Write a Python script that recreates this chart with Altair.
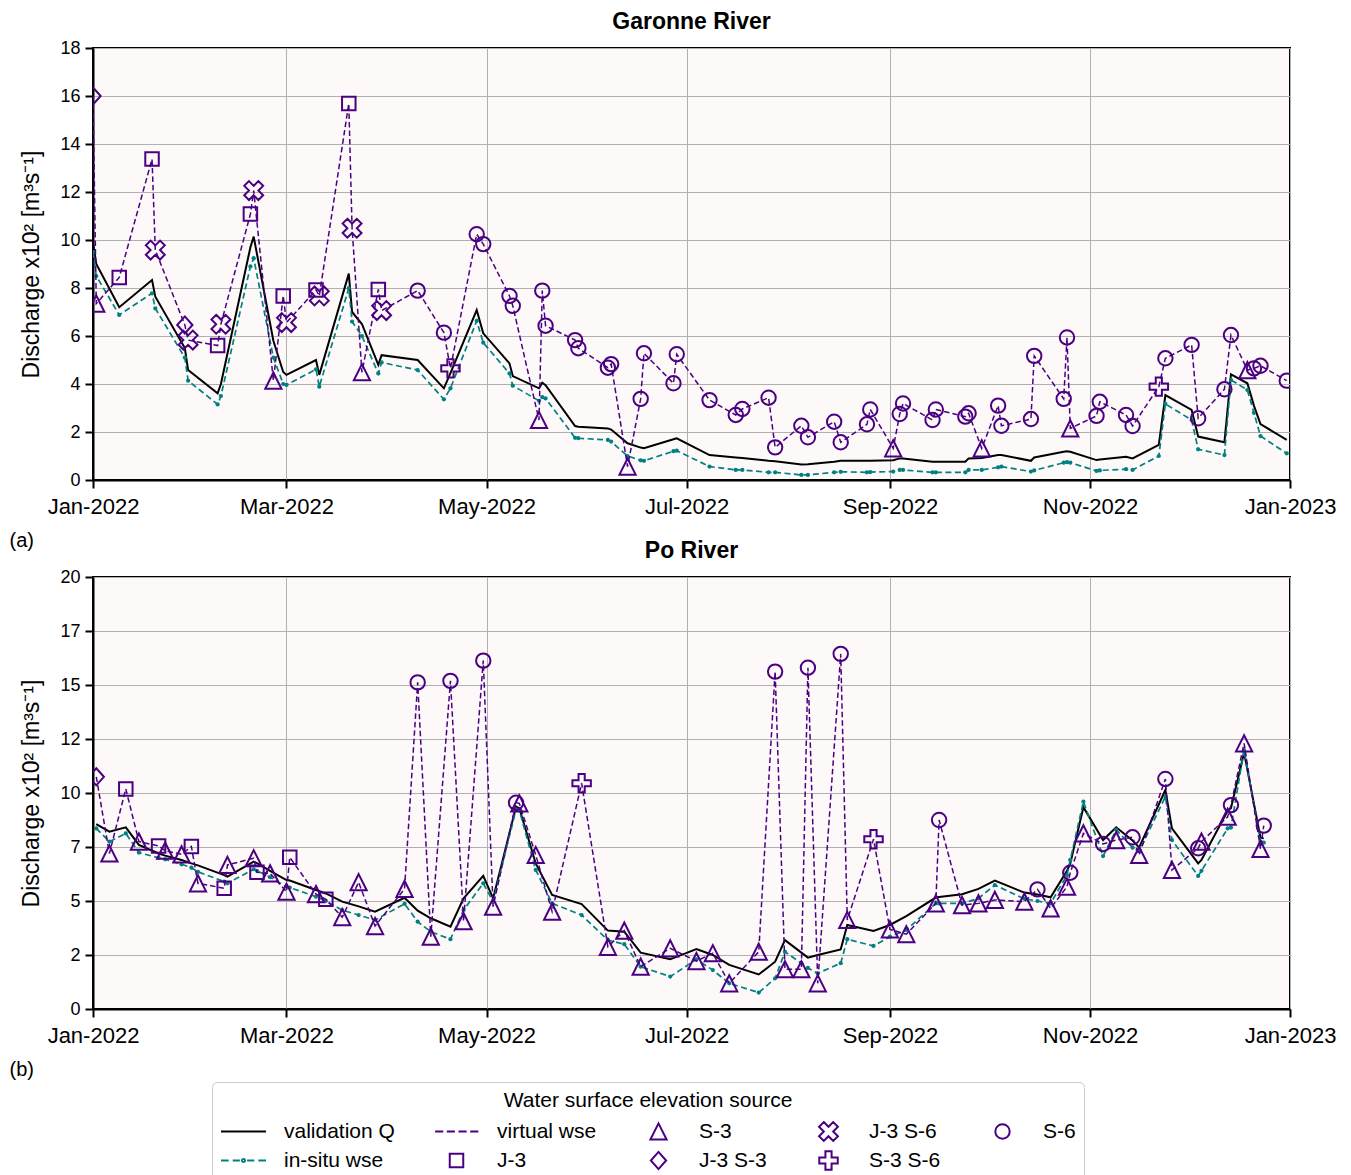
import altair as alt
import pandas as pd

PURPLE = "#4b0082"
TEAL = "#008080"
PANEL_BG = "#fcf9f8"
FONT = "Liberation Sans"

# ---------------- Garonne River ----------------
garonne_dates = [
    "2022-01-01", "2022-01-02", "2022-01-09", "2022-01-19", "2022-01-20",
    "2022-01-29", "2022-01-30", "2022-02-08", "2022-02-09", "2022-02-18",
    "2022-02-19", "2022-02-25", "2022-02-28", "2022-03-01", "2022-03-10",
    "2022-03-11", "2022-03-20", "2022-03-21", "2022-03-24", "2022-03-29",
    "2022-03-30", "2022-04-10", "2022-04-18", "2022-04-20", "2022-04-28",
    "2022-04-30", "2022-05-08", "2022-05-09", "2022-05-17", "2022-05-18",
    "2022-05-19", "2022-05-28", "2022-05-29", "2022-06-07", "2022-06-08",
    "2022-06-13", "2022-06-17", "2022-06-18", "2022-06-27", "2022-06-28",
    "2022-07-08", "2022-07-16", "2022-07-18", "2022-07-26", "2022-07-28",
    "2022-08-05", "2022-08-07", "2022-08-15", "2022-08-17", "2022-08-25",
    "2022-08-26", "2022-09-02", "2022-09-04", "2022-09-05", "2022-09-14",
    "2022-09-15", "2022-09-24", "2022-09-25", "2022-09-29", "2022-10-04",
    "2022-10-05", "2022-10-14", "2022-10-15", "2022-10-24", "2022-10-25",
    "2022-10-26", "2022-11-03", "2022-11-04", "2022-11-12", "2022-11-14",
    "2022-11-22", "2022-11-24", "2022-12-02", "2022-12-04", "2022-12-12",
    "2022-12-14", "2022-12-19", "2022-12-21", "2022-12-23", "2022-12-31",
]
garonne_validation = [
    9.9, 9.0, 7.2, 8.33, 7.64, 5.5, 4.58, 3.61, 4.0, 9.7,
    10.14, 5.8, 4.5, 4.38, 5.0, 4.38, 8.6, 7.0, 6.5, 4.8,
    5.2, 5.0, 3.82, 4.45, 7.08, 6.11, 4.86, 4.33, 3.82, 4.05,
    3.95, 2.25, 2.22, 2.15, 2.1, 1.53, 1.35, 1.32, 1.7, 1.74,
    1.04, 0.94, 0.92, 0.8, 0.78, 0.65, 0.66, 0.76, 0.8, 0.8,
    0.8, 0.82, 0.9, 0.9, 0.76, 0.76, 0.76, 0.9, 0.92, 1.04,
    1.04, 0.8, 0.94, 1.18, 1.2, 1.18, 0.83, 0.85, 0.97, 0.9,
    1.46, 3.54, 2.92, 1.81, 1.57, 4.4, 4.03, 3.1, 2.33, 1.67,
]
garonne_insitu = [
    9.5, 8.5, 6.88, 7.78, 7.15, 5.1, 4.14, 3.15, 3.5, 8.9,
    9.24, 5.1, 4.0, 3.96, 4.61, 3.89, 7.99, 6.6, 6.0, 4.44,
    4.9, 4.58, 3.36, 3.82, 6.63, 5.72, 4.44, 3.93, 3.3, 3.45,
    3.4, 1.76, 1.74, 1.67, 1.6, 1.0, 0.82, 0.8, 1.2, 1.22,
    0.56, 0.42, 0.42, 0.32, 0.32, 0.21, 0.21, 0.32, 0.34, 0.32,
    0.33, 0.35, 0.42, 0.42, 0.32, 0.32, 0.32, 0.42, 0.42, 0.53,
    0.56, 0.35, 0.4, 0.72, 0.74, 0.72, 0.38, 0.4, 0.45, 0.42,
    1.0, 3.17, 2.5, 1.28, 1.04, 4.17, 3.75, 2.8, 1.83, 1.11,
]
garonne_virtual = [
    16.0, 7.35, 8.44, 13.37, 9.58, 6.46, 5.83, 5.6, 6.49, 11.08,
    12.06, 4.14, 7.67, 6.56, 7.92, 7.67, 15.69, 10.49, 4.49, 7.94,
    7.06, 7.89, 6.14, 4.65, 10.24, 9.83, 7.67, 7.26, 2.5, 7.89,
    6.43, 5.83, 5.49, 4.68, 4.83, 0.56, 3.38, 5.28, 4.03, 5.24,
    3.33, 2.71, 2.96, 3.43, 1.36, 2.26, 1.78, 2.43, 1.57, 2.32,
    2.94, 1.32, 2.75, 3.19, 2.5, 2.94, 2.64, 2.78, 1.32, 3.1,
    2.26, 2.54, 5.17, 3.38, 5.94, 2.15, 2.67, 3.26, 2.71, 2.25,
    3.89, 5.07, 5.63, 2.57, 3.78, 6.04, 4.58, 4.65, 4.76, 4.14,
]
garonne_source = (
    ["J-3 S-3", "S-3", "J-3", "J-3", "J-3 S-6", "J-3 S-3", "J-3 S-6", "J-3", "J-3 S-6", "J-3",
     "J-3 S-6", "S-3", "J-3", "J-3 S-6", "J-3", "J-3 S-6", "J-3", "J-3 S-6", "S-3", "J-3",
     "J-3 S-6", "S-6", "S-6", "S-3 S-6", "S-6", "S-6", "S-6", "S-6", "S-3", "S-6",
     "S-6", "S-6", "S-6", "S-6", "S-6", "S-3", "S-6", "S-6", "S-6", "S-6",
     "S-6", "S-6", "S-6", "S-6", "S-6", "S-6", "S-6", "S-6", "S-6", "S-6",
     "S-6", "S-3", "S-6", "S-6", "S-6", "S-6", "S-6", "S-6", "S-3", "S-6",
     "S-6", "S-6", "S-6", "S-6", "S-6", "S-3", "S-6", "S-6", "S-6", "S-6",
     "S-3 S-6", "S-6", "S-6", "S-6", "S-6", "S-6", "S-3", "S-6", "S-6", "S-6"]
)

# ---------------- Po River ----------------
po_dates = [
    "2022-01-02", "2022-01-06", "2022-01-11", "2022-01-15", "2022-01-21",
    "2022-01-23", "2022-01-28", "2022-01-31", "2022-02-02", "2022-02-10",
    "2022-02-11", "2022-02-19", "2022-02-20", "2022-02-24", "2022-03-01",
    "2022-03-02", "2022-03-10", "2022-03-13", "2022-03-18", "2022-03-23",
    "2022-03-28", "2022-04-06", "2022-04-10", "2022-04-14", "2022-04-20",
    "2022-04-24", "2022-04-30", "2022-05-03", "2022-05-10", "2022-05-11",
    "2022-05-16", "2022-05-21", "2022-05-30", "2022-06-07", "2022-06-12",
    "2022-06-17", "2022-06-26", "2022-07-04", "2022-07-09", "2022-07-14",
    "2022-07-23", "2022-07-28", "2022-07-31", "2022-08-05", "2022-08-07",
    "2022-08-10", "2022-08-17", "2022-08-19", "2022-08-27", "2022-09-01",
    "2022-09-06", "2022-09-15", "2022-09-16", "2022-09-23", "2022-09-28",
    "2022-10-03", "2022-10-12", "2022-10-16", "2022-10-20", "2022-10-25",
    "2022-10-26", "2022-10-30", "2022-11-05", "2022-11-09", "2022-11-14",
    "2022-11-16", "2022-11-24", "2022-11-26", "2022-12-04", "2022-12-05",
    "2022-12-13", "2022-12-14", "2022-12-18", "2022-12-23", "2022-12-24",
]
po_validation = [
    8.56, 8.21, 8.41, 7.6, 7.2, 7.1, 6.9, 6.74, 6.65, 6.2,
    6.13, 6.82, 6.75, 6.4, 5.97, 5.95, 5.51, 5.35, 4.97, 4.75,
    4.51, 5.15, 4.55, 4.2, 3.81, 5.12, 6.16, 5.12, 9.37, 9.3,
    6.74, 5.28, 4.86, 3.63, 3.58, 2.61, 2.3, 2.78, 2.5, 2.04,
    1.6, 2.19, 3.19, 2.61, 2.38, 2.5, 2.76, 3.89, 3.61, 3.89,
    4.3, 5.16, 5.18, 5.31, 5.56, 5.94, 5.39, 5.3, 5.17, 6.4,
    6.74, 9.34, 7.82, 8.41, 7.8, 7.48, 10.14, 8.36, 6.74, 6.9,
    9.18, 9.3, 11.87, 7.93, 7.9,
]
po_insitu = [
    8.36, 7.75, 8.13, 7.24, 7.0, 6.93, 6.7, 6.54, 6.35, 5.9,
    5.82, 6.47, 6.4, 6.1, 5.66, 5.62, 5.2, 5.0, 4.58, 4.35,
    4.12, 4.87, 4.04, 3.58, 3.23, 4.58, 5.82, 4.97, 9.24, 9.2,
    6.44, 4.89, 4.35, 3.19, 3.0, 1.96, 1.5, 2.3, 1.8, 1.19,
    0.76, 1.42, 2.65, 2.12, 1.9, 1.65, 2.12, 3.23, 2.92, 3.35,
    3.66, 4.89, 4.89, 4.89, 5.12, 5.74, 5.1, 5.0, 4.89, 6.2,
    6.9, 9.6, 7.08, 8.3, 7.47, 7.3, 9.83, 7.82, 6.16, 6.4,
    8.36, 8.4, 11.99, 7.75, 7.7,
]
po_virtual = [
    10.75, 7.2, 10.19, 7.75, 7.55, 7.33, 7.16, 7.52, 5.82, 5.59,
    6.67, 6.98, 6.33, 6.28, 5.43, 7.02, 5.32, 5.08, 4.25, 5.87,
    3.84, 5.56, 15.12, 3.35, 15.19, 4.07, 16.13, 4.74, 9.55, 9.52,
    7.13, 4.51, 10.45, 2.88, 3.63, 1.96, 2.81, 2.22, 2.58, 1.19,
    2.65, 15.62, 1.84, 1.84, 15.8, 1.19, 16.44, 4.12, 7.86, 3.69,
    3.46, 4.89, 8.75, 4.81, 4.89, 5.05, 4.97, 5.54, 4.66, 5.66,
    6.31, 8.13, 7.64, 7.82, 7.95, 7.13, 10.65, 6.44, 7.44, 7.75,
    8.9, 9.44, 12.3, 7.41, 8.49,
]
po_source = (
    ["J-3 S-3", "S-3", "J-3", "S-3", "J-3", "S-3", "S-3", "J-3", "S-3", "J-3",
     "S-3", "S-3", "J-3", "S-3", "S-3", "J-3", "S-3", "J-3", "S-3", "S-3",
     "S-3", "S-3", "S-6", "S-3", "S-6", "S-3", "S-6", "S-3", "S-6", "S-3",
     "S-3", "S-3", "S-3 S-6", "S-3", "S-3", "S-3", "S-3", "S-3", "S-3", "S-3",
     "S-3", "S-6", "S-3", "S-3", "S-6", "S-3", "S-6", "S-3", "S-3 S-6", "S-3",
     "S-3", "S-3", "S-6", "S-3", "S-3", "S-3", "S-3", "S-6", "S-3", "S-3",
     "S-6", "S-3", "S-6", "S-3", "S-6", "S-3", "S-6", "S-3", "S-6", "S-3",
     "S-3", "S-6", "S-3", "S-3", "S-6"]
)

# ---------------- legend entries (filled column by column, 2 rows) ----------------
legend_entries = ["validation Q", "in-situ wse", "virtual wse", "J-3", "S-3",
                  "J-3 S-3", "J-3 S-6", "S-3 S-6", "S-6"]

# symbol paths, in units of half the legend handle length
symbol_paths = {
    "validation Q": "M-1,0L1,0",
    "virtual wse": "M-0.95,0L-0.59,0M-0.43,0L-0.07,0M0.09,0L0.45,0M0.61,0L0.97,0",
    "in-situ wse": ("M-1,0L-0.66,0M-0.48,0L-0.16,0M0.16,0L0.48,0M0.66,0L1,0"
                    "M0.07,0A0.07,0.07 0 1,1 -0.07,0A0.07,0.07 0 1,1 0.07,0Z"),
    "S-3": "M0,-0.36L0.36,0.36L-0.36,0.36Z",
    "J-3": "M-0.3,-0.3L0.3,-0.3L0.3,0.3L-0.3,0.3Z",
    "J-3 S-3": "M0,-0.38L0.34,0L0,0.38L-0.34,0Z",
    "J-3 S-6": ("M-0.21,-0.42L0,-0.21L0.21,-0.42L0.42,-0.21L0.21,0L0.42,0.21"
                "L0.21,0.42L0,0.21L-0.21,0.42L-0.42,0.21L-0.21,0L-0.42,-0.21Z"),
    "S-3 S-6": ("M-0.137,-0.41L0.137,-0.41L0.137,-0.137L0.41,-0.137L0.41,0.137L0.137,0.137"
                "L0.137,0.41L-0.137,0.41L-0.137,0.137L-0.41,0.137L-0.41,-0.137L-0.137,-0.137Z"),
    "S-6": "M0.32,0A0.32,0.32 0 1,1 -0.32,0A0.32,0.32 0 1,1 0.32,0Z",
}
symbol_colors = {"validation Q": "black", "in-situ wse": TEAL}

shape_range = [symbol_paths[e] for e in legend_entries]
stroke_range = [symbol_colors.get(e, PURPLE) for e in legend_entries]
SYMBOL_SIZE = 2025  # handle box of 45 px

month_ticks = [alt.DateTime(year=2022, month=m, date=1) for m in (1, 3, 5, 7, 9, 11)]
month_ticks.append(alt.DateTime(year=2023, month=1, date=1))

Y_TITLE = "Discharge x10² [m³s⁻¹]"


def river_panel(title, tag, dates, validation, insitu, virtual, source,
                y_max, y_ticks, legend):
    df = pd.DataFrame({
        "date": pd.to_datetime(dates),
        "validation": validation,
        "insitu": insitu,
        "virtual": virtual,
        "source": source,
    })

    x_enc = alt.X(
        "date:T",
        scale=alt.Scale(domain=[alt.DateTime(year=2022, month=1, date=1),
                                alt.DateTime(year=2023, month=1, date=1)], nice=False),
        axis=alt.Axis(values=month_ticks, format="%b-%Y", labelFontSize=22,
                      labelPadding=8, labelFlush=False, labelOverlap=False,
                      title=tag, titleFontSize=20, titleFontWeight="normal",
                      titleAlign="left", titleBaseline="alphabetic",
                      titleX=-84, titleY=66),
    )

    def y_enc(field):
        return alt.Y(
            f"{field}:Q",
            scale=alt.Scale(domain=[0, y_max], nice=False),
            axis=alt.Axis(values=y_ticks, labelExpr="'' + floor(datum.value)",
                          labelFontSize=18, labelPadding=5, labelFlush=False,
                          title=Y_TITLE, titleFontSize=23, titleFontWeight="normal",
                          titlePadding=16),
        )

    base = alt.Chart(df)
    validation_line = base.mark_line(color="black", strokeWidth=2, clip=True).encode(
        x=x_enc, y=y_enc("validation"))
    insitu_line = base.mark_line(
        color=TEAL, strokeWidth=1.7, strokeDash=[6, 3.5], clip=True,
        point=alt.OverlayMarkDef(filled=True, color=TEAL, size=18, opacity=1),
    ).encode(x=x_enc, y=y_enc("insitu"))
    virtual_line = base.mark_line(color=PURPLE, strokeWidth=1.5, strokeDash=[5.5, 3],
                                  clip=True).encode(x=x_enc, y=y_enc("virtual"))
    markers = base.mark_point(filled=False, size=SYMBOL_SIZE, strokeWidth=2,
                              opacity=1, clip=True).encode(
        x=x_enc,
        y=y_enc("virtual"),
        shape=alt.Shape("source:N",
                        scale=alt.Scale(domain=legend_entries, range=shape_range),
                        legend=legend),
        stroke=alt.Stroke("source:N",
                          scale=alt.Scale(domain=legend_entries, range=stroke_range),
                          legend=legend),
    )
    return alt.layer(validation_line, insitu_line, virtual_line, markers).properties(
        width=1197, height=432,
        title=alt.Title(title, fontSize=23, fontWeight="bold", offset=5,
                        anchor="middle", color="black"),
    )


source_legend = alt.Legend(
    orient="none", legendX=119, legendY=505, columns=5,
    title="Water surface elevation source", titleAnchor="middle", titleLimit=0,
    titleFontSize=21, titleFontWeight="normal", titleColor="black", titlePadding=8,
    labelFontSize=21, labelColor="black", labelOffset=17, labelLimit=0,
    symbolSize=SYMBOL_SIZE, symbolStrokeWidth=2, symbolOpacity=1,
    clipHeight=25, rowPadding=4, columnPadding=38, padding=8,
    strokeColor="#cccccc", fillColor="white", cornerRadius=5,
)

garonne = river_panel("Garonne River", "(a)", garonne_dates, garonne_validation,
                      garonne_insitu, garonne_virtual, garonne_source,
                      18, list(range(0, 19, 2)), None)
po = river_panel("Po River", "(b)", po_dates, po_validation, po_insitu, po_virtual,
                 po_source, 20, [i * 2.5 for i in range(9)], source_legend)

chart = (
    alt.vconcat(garonne, po, spacing=97, bounds="flush")
    .resolve_scale(shape="independent", stroke="independent")
    .resolve_legend(shape="independent", stroke="independent")
    .properties(padding={"left": 8, "top": 10, "right": 5, "bottom": 0},
                background="white")
    .configure(font=FONT)
    .configure_view(fill=PANEL_BG, stroke="black", strokeWidth=2)
    .configure_axis(grid=True, gridColor="#b0b0b0", gridWidth=1,
                    domainColor="black", domainWidth=2,
                    tickColor="black", tickWidth=2, tickSize=8,
                    labelColor="black", titleColor="black",
                    labelFont=FONT, titleFont=FONT)
    .configure_legend(labelFont=FONT, titleFont=FONT)
    .configure_title(font=FONT, color="black")
)

chart.save("out.html", embed_options={"renderer": "svg", "actions": False})
